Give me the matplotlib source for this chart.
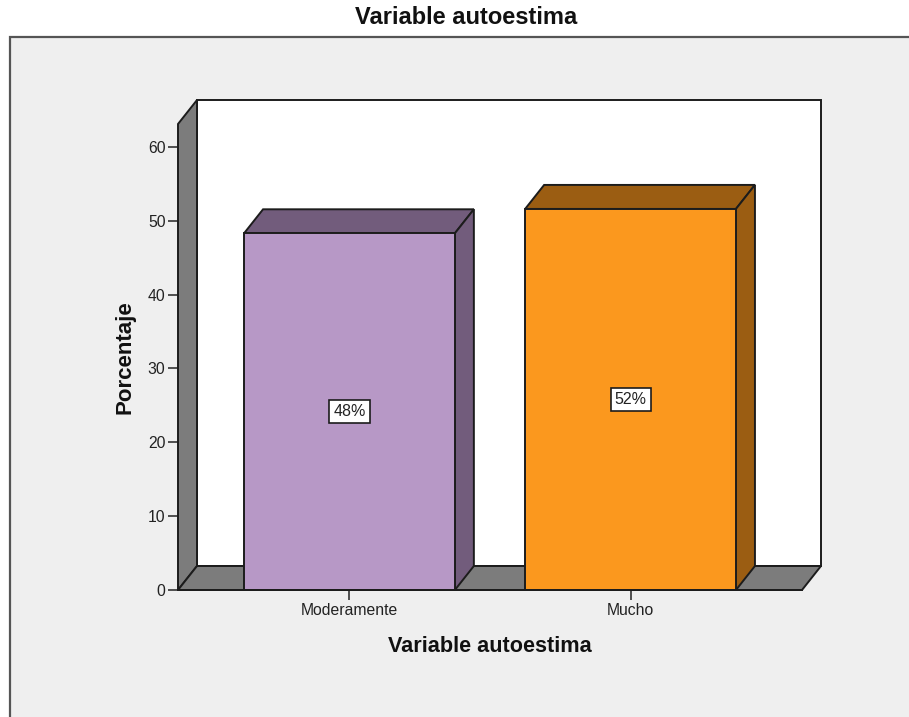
#!/usr/bin/env python
import matplotlib
matplotlib.use("Agg")
import matplotlib.pyplot as plt
from matplotlib.patches import Polygon, Rectangle
from matplotlib.transforms import ScaledTranslation

plt.rcParams['font.family'] = ['Liberation Sans', 'DejaVu Sans']

categories = ["Moderamente", "Mucho"]
values = [48.3, 51.6]
labels = ["48%", "52%"]
y_ticks = [0, 10, 20, 30, 40, 50, 60]
front_colors = ["#B798C6", "#FB981E"]
dark_colors = ["#725C7C", "#9B5D12"]

W, H = 909, 717
DPI = 100
DX, DY = 19, 24       # depth of the 3D effect, pixels
BAR_WIDTH = 0.75
EDGE = "#1c1c1c"
WALL = "#7C7C7C"

fig = plt.figure(figsize=(W / DPI, H / DPI), dpi=DPI, facecolor="white")

# grey panel behind the chart, its bottom and right edges run off the picture
fig.add_artist(Rectangle((10 / W, -0.05), 1, 1.05 - 37 / H, transform=fig.transFigure,
                         facecolor="#EFEFEF", edgecolor="#555555", linewidth=1.6, zorder=-1))

ax = fig.add_axes([178 / W, 1 - 590 / H, (802 - 178) / W, (590 - 124) / H])
ax.set_xlim(-0.61, 1.61)
ax.set_ylim(0, 63.1)
ax.patch.set_visible(False)
for s in ax.spines.values():
    s.set_visible(False)

data = ax.transData
back = data + ScaledTranslation(DX / DPI, DY / DPI, fig.dpi_scale_trans)
x0, x1 = ax.get_xlim()
y0, y1 = ax.get_ylim()


def poly(front_pts, back_pts, color, z):
    # each face goes front_pts -> back_pts, both given in data units
    disp = [data.transform(p) for p in front_pts] + [back.transform(p) for p in back_pts]
    ax.add_patch(Polygon(disp, closed=True, transform=None, facecolor=color,
                         edgecolor=EDGE, linewidth=1.4, zorder=z, clip_on=False,
                         joinstyle="miter"))


# back wall, left wall and floor
poly([], [(x0, y0), (x1, y0), (x1, y1), (x0, y1)], "white", 1)
poly([(x0, y0), (x0, y1)], [(x0, y1), (x0, y0)], WALL, 2)
poly([(x0, y0), (x1, y0)], [(x1, y0), (x0, y0)], WALL, 2)

# bars: front through ax.bar, top and side faces from the same values
xs = range(len(categories))
for i in xs:
    left, right = i - BAR_WIDTH / 2, i + BAR_WIDTH / 2
    poly([(left, values[i]), (right, values[i])], [(right, values[i]), (left, values[i])], dark_colors[i], 3)
    poly([(right, 0), (right, values[i])], [(right, values[i]), (right, 0)], dark_colors[i], 3)
ax.bar(xs, values, width=BAR_WIDTH, color=front_colors, edgecolor=EDGE, linewidth=1.4, zorder=4)

for i in xs:
    ax.text(i, values[i] / 2, labels[i], ha="center", va="center", fontsize=11.5,
            color="#222222", zorder=6,
            bbox=dict(boxstyle="square,pad=0.25", facecolor="white", edgecolor=EDGE, linewidth=1.2))

# axes lines along the front plane
ax.plot([x0, x1], [y0, y0], color=EDGE, lw=1.4, zorder=5, clip_on=False)

ax.set_xticks(list(xs))
ax.set_xticklabels(categories)
ax.set_yticks(y_ticks)
ax.tick_params(axis="x", length=7.5, width=1.2, color="#333333", pad=2, labelsize=11.3, labelcolor="#222222")
ax.tick_params(axis="y", length=7.5, width=1.2, color="#333333", pad=1.5, labelsize=11.3, labelcolor="#222222")
ax.set_xlabel("Variable autoestima", fontsize=15.6, fontweight="bold", labelpad=12.7, color="#111111")
ax.set_ylabel("Porcentaje", fontsize=16, fontweight="bold", labelpad=9, color="#111111")

fig.text(466 / W, 1 - 18 / H, "Variable autoestima", ha="center", va="center",
         fontsize=17, color="#111111", fontweight="bold")

fig.savefig("out.png", dpi=DPI, facecolor="white")
